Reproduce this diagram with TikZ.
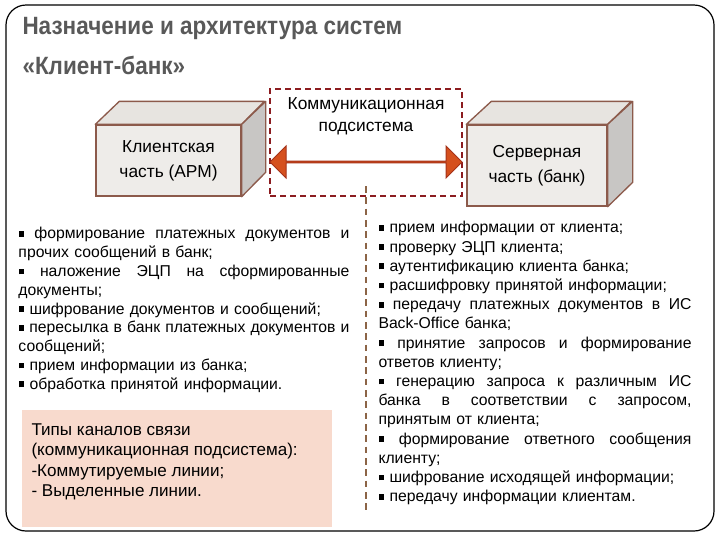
\documentclass[tikz,border=0pt]{standalone}
\usepackage{fontspec}
\setmainfont{Liberation Sans}
\newfontfamily\titlefont[FakeStretch=0.9]{Liberation Sans}
\usetikzlibrary{shapes.arrows}

\newlength\leftcolw
\setlength\leftcolw{248.25pt}
\newlength\rightcolw
\setlength\rightcolw{234.75pt}
\newcommand\fillline[2]{{\spaceskip=0.27em plus 1fil minus 0.05em\xspaceskip=\spaceskip\makebox[#1][s]{#2}}}
\newcommand\sqb{\raisebox{0.13em}{\rule{0.37em}{0.37em}}}

\tikzset{every picture/.style={line width=0.75pt}}
\tikzset{
frame/.style={draw=black, line width=0.9pt, rounded corners=15pt},
titletext/.style={inner sep=0pt, align=left, text={rgb, 255:red, 89; green, 89; blue, 89}, font=\titlefont\bfseries\fontsize{18.75}{30}\selectfont},
cubefront/.style={draw={rgb, 255:red, 140; green, 90; blue, 75}, fill={rgb, 255:red, 238; green, 236; blue, 233}, line width=1pt, inner sep=0pt, align=center, font=\fontsize{13}{18.5}\selectfont},
cubetop/.style={draw={rgb, 255:red, 140; green, 90; blue, 75}, fill={rgb, 255:red, 231; green, 228; blue, 224}, line width=1pt, line join=round},
cubeside/.style={draw={rgb, 255:red, 140; green, 90; blue, 75}, fill={rgb, 255:red, 200; green, 198; blue, 196}, line width=1pt, line join=round},
commbox/.style={draw={rgb, 255:red, 140; green, 28; blue, 32}, dash pattern=on 4.5pt off 3pt, line width=1.5pt, inner sep=0pt},
commarrow/.style={double arrow, double arrow head extend=7.1pt, minimum width=24pt, minimum height=144pt, inner sep=0pt, fill={rgb, 255:red, 213; green, 80; blue, 30}, draw={rgb, 255:red, 165; green, 50; blue, 25}, line width=0.75pt},
busline/.style={draw={rgb, 255:red, 140; green, 100; blue, 70}, dash pattern=on 5pt off 3.5pt, line width=1.5pt},
listtext/.style={anchor=north west, inner sep=0pt, align=left},
chanbox/.style={fill={rgb, 255:red, 248; green, 218; blue, 205}, draw=none, inner sep=0pt}
}

\begin{document}
\begin{tikzpicture}[x=0.75pt,y=0.75pt,yscale=-1,xscale=1]
\useasboundingbox (0,0) rectangle (720,540);

%Rounded Rect [id:frame]
\draw [frame] (6,5) rectangle (714,531) ;

% Text Node
\node [titletext, anchor=north west] (title) at (22,17) {Назначение и архитектура систем\\«Клиент-банк»};

%Shape: Rectangle [id:comm]
\node [commbox, minimum width=144pt, minimum height=80.25pt] (comm) at (366,142.5) {};
% Text Node
\node [inner sep=0pt, align=center, font=\fontsize{13}{16.5}\selectfont] (commlabel) at (366,116) {Коммуникационная\\подсистема};

%Shape: Cube [id:client]
\node [cubefront, minimum width=108.75pt, minimum height=53.25pt] (client) at (168.5,160.5) {Клиентская\\часть (АРМ)};
\draw [cubetop] (client.north west) -- ++(24,-23) -- ++(145,0) -- (client.north east) -- cycle ;
\draw [cubeside] (client.north east) -- ++(24,-23) -- ++(0,71) -- (client.south east) -- cycle ;

%Shape: Cube [id:server]
\node [cubefront, minimum width=105pt, minimum height=60.75pt] (server) at (537,165.5) {Серверная\\часть (банк)};
\draw [cubetop] (server.north west) -- ++(25,-23) -- ++(140,0) -- (server.north east) -- cycle ;
\draw [cubeside] (server.north east) -- ++(25,-23) -- ++(0,81) -- (server.south east) -- cycle ;

%Shape: Double Arrow [id:link]
\node [commarrow] (link) at (366,162) {};

%Straight Lines [id:bus]
\coordinate (busend) at (366,510);
\draw [busline] ([yshift=-8.25pt]comm.south) -- (busend) ;

% Text Node
\node [listtext, text width=\leftcolw, font=\fontsize{11.8}{14.1}\selectfont] (clienttasks) at (18,227) {%
\fillline{\leftcolw}{\sqb{} формирование платежных документов и}\\
прочих сообщений в банк;\\
\fillline{\leftcolw}{\sqb{} наложение ЭЦП на сформированные}\\
документы;\\
\sqb{} шифрование документов и сообщений;\\
\fillline{\leftcolw}{\sqb{} пересылка в банк платежных документов и}\\
сообщений;\\
\sqb{} прием информации из банка;\\
\sqb{} обработка принятой информации.};

% Text Node
\node [listtext, text width=\rightcolw, font=\fontsize{11.8}{14.4}\selectfont] (servertasks) at (378,221) {%
\sqb{} прием информации от клиента;\\
\sqb{} проверку ЭЦП клиента;\\
\sqb{} аутентификацию клиента банка;\\
\sqb{} расшифровку принятой информации;\\
\fillline{\rightcolw}{\sqb{} передачу платежных документов в ИС}\\
Back-Office банка;\\
\fillline{\rightcolw}{\sqb{} принятие запросов и формирование}\\
ответов клиенту;\\
\fillline{\rightcolw}{\sqb{} генерацию запроса к различным ИС}\\
\fillline{\rightcolw}{банка в соответствии с запросом,}\\
принятым от клиента;\\
\fillline{\rightcolw}{\sqb{} формирование ответного сообщения}\\
клиенту;\\
\sqb{} шифрование исходящей информации;\\
\sqb{} передачу информации клиентам.};

%Shape: Rectangle [id:channels]
\node [chanbox, minimum width=232.5pt, minimum height=87.75pt] (channels) at (177,468.5) {};
% Text Node
\node [listtext, font=\fontsize{12.8}{15.3}\selectfont] (chantext) at (31,423) {Типы каналов связи\\(коммуникационная подсистема):\\-Коммутируемые линии;\\- Выделенные линии.};

\end{tikzpicture}
\end{document}
